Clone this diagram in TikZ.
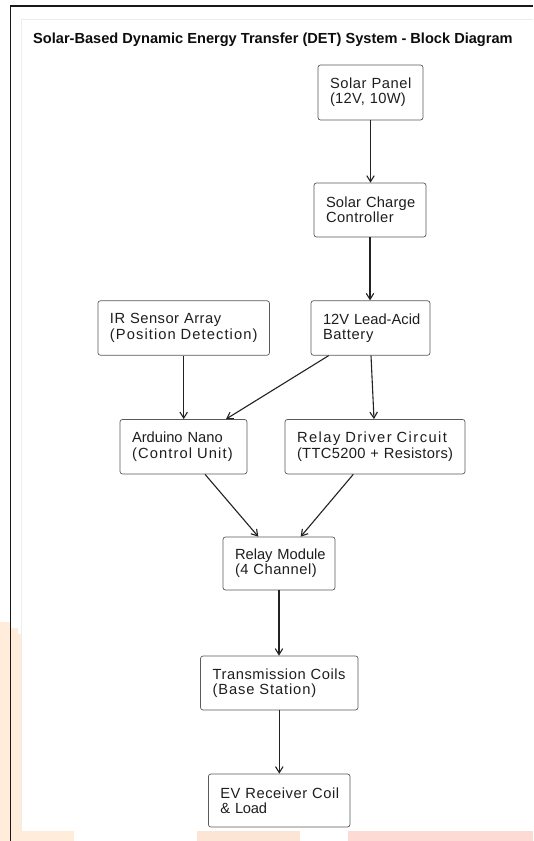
\documentclass[tikz,border=0pt]{standalone}
\usepackage{fontspec}
\setmainfont{Liberation Sans}
\usetikzlibrary{arrows.meta}
\definecolor{bgorange}{HTML}{FFECDB}
\definecolor{bgorangeb}{HTML}{FDE5D6}
\definecolor{bgpink}{HTML}{FDDAD3}
\definecolor{boxline}{HTML}{5A5A5A}
\definecolor{arrowc}{HTML}{222222}
\definecolor{txt}{HTML}{1E1E1E}
\newcommand\ls[2]{\mbox{\addfontfeature{LetterSpace=#1}#2}}
\begin{document}
\begin{tikzpicture}[x=1pt,y=-1pt,
  blk/.style={draw=boxline, line width=0.7pt, rounded corners=2.5pt, fill=white,
    align=left, inner xsep=12pt, inner ysep=0pt, text=txt,
    font=\fontsize{14.7}{15.3}\selectfont},
  arr/.style={draw=arrowc, line width=1.1pt, -{Straight Barb[length=6pt,width=7.5pt]}}]
\useasboundingbox (0,0) rectangle (533,841);
\fill[white] (0,0) rectangle (533,841);
% background strips
\fill[bgorange] (0,622) -- (10,622) -- (10,628) -- (18,628) -- (18,634) -- (21,634) -- (21,841) -- (0,841) -- cycle;
\fill[bgorange] (0,831) rectangle (74,841);
\fill[bgorangeb] (197,831) rectangle (300,841);
\fill[bgpink] (348,831) rectangle (533,841);
\draw[black!7, line width=0.6pt] (21,831) -- (21,19) -- (533,19);
% frame
\draw[black!90, line width=1.6pt] (10.3,841) -- (10.3,6) -- (533,6);
% title
\node[anchor=base west, inner sep=0pt, text=black!95,
  font=\bfseries\fontsize{14.6}{16}\selectfont] (title) at (33,43.3)
  {Solar-Based Dynamic Energy Transfer (DET) System - Block Diagram};
% blocks
\node[blk, text width=81pt, minimum height=55pt] (sp) at (370.5,92.5)
  {\ls{3.9}{Solar Panel}\\\ls{2}{(12V, 10W)}};
\node[blk, text width=88pt, minimum height=54pt] (scc) at (370,210)
  {\ls{1.4}{Solar Charge}\\\ls{3}{Controller}};
\node[blk, text width=95pt, minimum height=54.5pt] (bat) at (370.5,328)
  {\ls{0}{12V Lead-Acid}\\\ls{4.3}{Battery}};
\node[blk, text width=147.5pt, minimum height=54.5pt] (ir) at (183.7,328)
  {\ls{3.4}{IR Sensor Array}\\\ls{7.4}{(Position Detection)}};
\node[blk, text width=103pt, minimum height=54.5pt] (ard) at (183.5,446.7)
  {\ls{0}{Arduino Nano}\\\ls{7.7}{(Control Unit)}};
\node[blk, text width=156pt, minimum height=54.5pt] (rd) at (375,446.7)
  {\ls{9.9}{Relay Driver Circuit}\\\ls{2.3}{(TTC5200 + Resistors)}};
\node[blk, text width=88pt, minimum height=53pt] (rm) at (279,563.5)
  {\ls{0}{Relay Module}\\\ls{3.5}{(4 Channel)}};
\node[blk, text width=133.5pt, minimum height=54pt] (tc) at (279.3,683)
  {\ls{3.9}{Transmission Coils}\\\ls{6}{(Base Station)}};
\node[blk, text width=117.6pt, minimum height=53pt] (ev) at (279.2,800.5)
  {\ls{3.7}{EV Receiver Coil}\\\ls{-2}{\& Load}};
% connectors
\draw[arr] (sp.south) -- (sp.south |- scc.north);
\draw[arr] (scc.south) -- (scc.south |- bat.north);
\draw[arr] (ir.south) -- (ir.south |- ard.north);
\draw[arr] ([xshift=-41.8pt]bat.south) -- ([xshift=42.5pt]ard.north);
\draw[arr] ([xshift=0.5pt]bat.south) -- ([xshift=-1pt]rd.north);
\draw[arr] ([xshift=21.5pt]ard.south) -- ([xshift=-20.7pt]rm.north);
\draw[arr] ([xshift=-21.7pt]rd.south) -- ([xshift=21.7pt]rm.north);
\draw[arr] (rm.south) -- (rm.south |- tc.north);
\draw[arr] (tc.south) -- (tc.south |- ev.north);
\end{tikzpicture}
\end{document}
